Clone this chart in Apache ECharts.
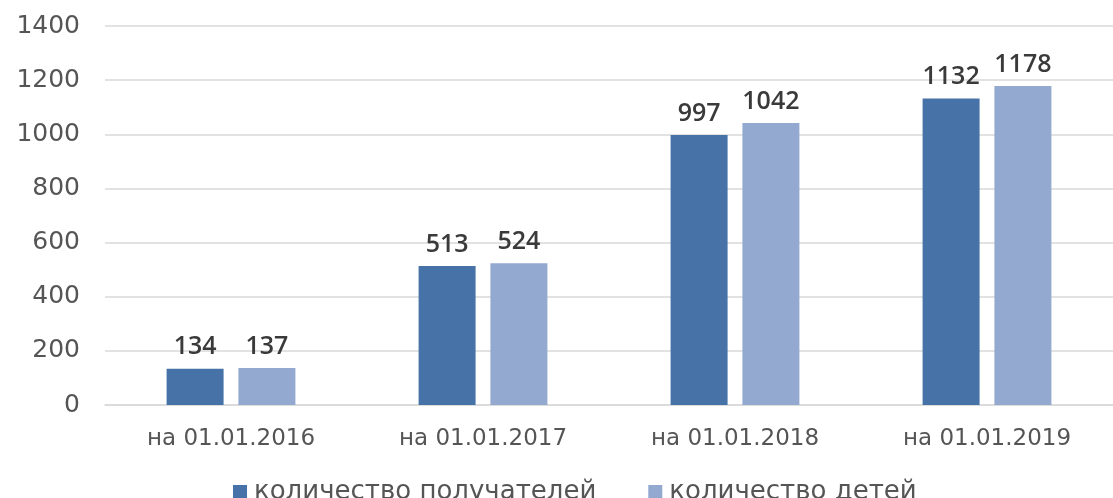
<!DOCTYPE html>
<html>
<head>
<meta charset="utf-8">
<script src="https://cdn.jsdelivr.net/npm/echarts@6/dist/echarts.min.js"></script>
<style>
  html, body { margin: 0; padding: 0; background: #ffffff; }
  #chart { width: 1113px; height: 498px; }
</style>
</head>
<body>
<div id="chart"></div>
<script>
// categories and values
const categories = ["на 01.01.2016", "на 01.01.2017", "на 01.01.2018", "на 01.01.2019"];
const recipients = [134, 513, 997, 1132];
const children = [137, 524, 1042, 1178];
const seriesNames = ["количество получателей", "количество детей"];

const textFont = "'DejaVu Sans', sans-serif";
const labelFont = "'Open Sans', sans-serif";
const colors = ["#4672a8", "#94a9d0"];

const chart = echarts.init(document.getElementById('chart'));

const labelStyle = {
  show: true,
  position: 'top',
  distance: 9,
  color: '#3a3a3a',
  fontSize: 25,
  fontWeight: 600,
  fontFamily: labelFont,
};

const option = {
  animation: false,
  color: colors,
  grid: {
    left: 105,
    right: 0,
    top: 26,
    bottom: 93,
  },
  legend: {
    top: 474,
    left: 228,
    padding: [5, 5, 5, 5],
    itemWidth: 14,
    itemHeight: 14,
    itemGap: 52,
    icon: 'rect',
    textStyle: {
      color: '#555555',
      fontSize: 26,
      fontFamily: textFont,
      padding: [0, 0, 0, 2],
    },
    data: seriesNames,
  },
  xAxis: {
    type: 'category',
    data: categories,
    axisLine: { lineStyle: { color: '#d9d9d9', width: 1.5 } },
    axisTick: { show: false },
    axisLabel: {
      color: '#555555',
      fontSize: 23,
      fontFamily: textFont,
      margin: 23,
    },
  },
  yAxis: {
    type: 'value',
    min: 0,
    max: 1400,
    interval: 200,
    axisLine: { show: false },
    axisTick: { show: false },
    axisLabel: {
      color: '#555555',
      fontSize: 25,
      fontFamily: textFont,
      margin: 25,
      formatter: (v) => String(v),
    },
    splitLine: { lineStyle: { color: '#d9d9d9', width: 1.5 } },
  },
  series: [
    {
      name: seriesNames[0],
      type: 'bar',
      data: recipients,
      barWidth: 57,
      barGap: '26%',
      label: labelStyle,
    },
    {
      name: seriesNames[1],
      type: 'bar',
      data: children,
      barWidth: 57,
      label: labelStyle,
    },
  ],
};

chart.setOption(option);
</script>
</body>
</html>
